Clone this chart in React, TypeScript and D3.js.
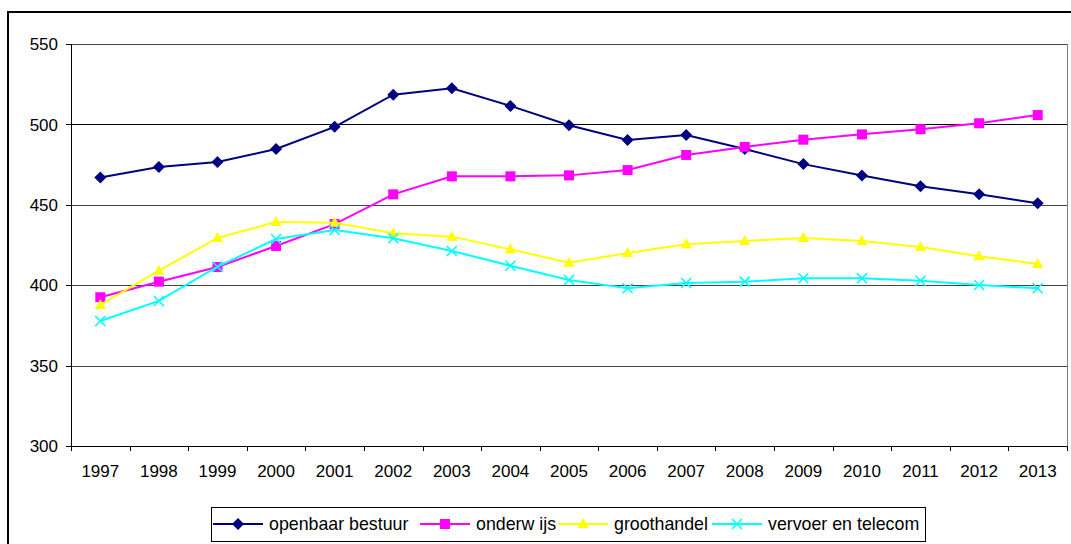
import * as d3 from 'd3';

// data
const years = ['1997', '1998', '1999', '2000', '2001', '2002', '2003', '2004', '2005', '2006', '2007', '2008', '2009', '2010', '2011', '2012', '2013'];
const openbaarBestuur = [467, 473.5, 476.6, 484.7, 498.5, 518.5, 522.5, 511.5, 499.5, 490.3, 493.4, 484.7, 475.3, 468.2, 461.5, 456.5, 451];
const onderwijs = [392.5, 402.2, 411.3, 424.4, 438, 456.5, 467.7, 467.7, 468.3, 471.6, 481, 486, 490.5, 493.8, 497, 500.7, 505.8];
const groothandel = [387.7, 409, 429.4, 439.3, 438.9, 432.3, 430.2, 422.3, 414, 420, 425.4, 427.5, 429.4, 427.5, 423.8, 418, 413.2];
const vervoerTelecom = [377.7, 390.2, 411.5, 428.7, 434.3, 429.2, 421.3, 412.1, 403.2, 398.1, 401.4, 402.2, 404.3, 404.3, 402.8, 400.1, 398.1];
const yTicks = [300, 350, 400, 450, 500, 550];

type Marker = 'diamond' | 'square' | 'triangle' | 'cross';
const series: { name: string; values: number[]; color: string; marker: Marker }[] = [
  { name: 'openbaar bestuur', values: openbaarBestuur, color: '#000080', marker: 'diamond' },
  { name: 'onderw ijs', values: onderwijs, color: '#FF00FF', marker: 'square' },
  { name: 'groothandel', values: groothandel, color: '#FFFF00', marker: 'triangle' },
  { name: 'vervoer en telecom', values: vervoerTelecom, color: '#00FFFF', marker: 'cross' },
];

const W = 1071, H = 544;
const plot = { left: 71, right: 1067, top: 44, bottom: 446 };
const FONT = 'Liberation Sans, Arial, sans-serif';

function MarkerShape({ type, x, y, color }: { type: Marker; x: number; y: number; color: string }) {
  if (type === 'diamond') {
    return <path d={`M${x},${y - 6}L${x + 6},${y}L${x},${y + 6}L${x - 6},${y}Z`} fill={color} />;
  }
  if (type === 'square') {
    return <rect x={x - 5} y={y - 5} width={10} height={10} fill={color} />;
  }
  if (type === 'triangle') {
    return <path d={`M${x},${y - 6}L${x + 5.5},${y + 4}L${x - 5.5},${y + 4}Z`} fill={color} />;
  }
  return <path d={`M${x - 5},${y - 5}L${x + 5},${y + 5}M${x + 5},${y - 5}L${x - 5},${y + 5}`} stroke={color} strokeWidth={1.6} fill="none" />;
}

export default function App() {
  const x = d3.scaleBand<string>().domain(years).range([plot.left, plot.right]);
  const y = d3.scaleLinear().domain([300, 550]).range([plot.bottom, plot.top]);
  const cx = (yr: string) => (x(yr) ?? 0) + x.bandwidth() / 2;

  const line = d3.line<number>()
    .x((_, i) => cx(years[i]))
    .y(d => y(d));

  // legend layout (line sample start positions)
  const legendStarts = [213, 420, 558, 712];

  return (
    <div style={{ position: 'fixed', left: 0, top: 0, width: W, height: H, background: '#fff' }}>
      <svg width={W} height={H} style={{ display: 'block', fontFamily: FONT }}>
        {/* outer frame */}
        <path d={`M8,${H + 5}V12H${W + 5}`} stroke="#000" strokeWidth={2} fill="none" />

        {/* gridlines */}
        {yTicks.filter(t => t > 300).map(t => (
          <line key={t} x1={plot.left} x2={plot.right} y1={Math.round(y(t)) + 0.5} y2={Math.round(y(t)) + 0.5}
            stroke={t === 500 ? '#000' : '#444'} strokeWidth={1} shapeRendering="crispEdges" />
        ))}
        {/* plot area right border */}
        <line x1={plot.right + 0.5} x2={plot.right + 0.5} y1={plot.top} y2={plot.bottom} stroke="#808080" shapeRendering="crispEdges" />

        {/* y axis */}
        <line x1={plot.left + 0.5} x2={plot.left + 0.5} y1={plot.top} y2={plot.bottom + 1} stroke="#000" shapeRendering="crispEdges" />
        {yTicks.map(t => (
          <g key={t}>
            <line x1={plot.left - 5} x2={plot.left} y1={Math.round(y(t)) + 0.5} y2={Math.round(y(t)) + 0.5} stroke="#000" shapeRendering="crispEdges" />
            <text x={58} y={y(t)} dy="0.36em" textAnchor="end" fontSize={17} fill="#000">{t}</text>
          </g>
        ))}

        {/* x axis */}
        <line x1={plot.left} x2={plot.right + 1} y1={plot.bottom + 0.5} y2={plot.bottom + 0.5} stroke="#000" shapeRendering="crispEdges" />
        {[...years.map(yr => x(yr) ?? 0), plot.right].map((px, i) => (
          <line key={i} x1={Math.round(px) + 0.5} x2={Math.round(px) + 0.5} y1={plot.bottom} y2={plot.bottom + 5} stroke="#000" shapeRendering="crispEdges" />
        ))}
        {years.map(yr => (
          <text key={yr} x={cx(yr)} y={477} textAnchor="middle" fontSize={17} fill="#000">{yr}</text>
        ))}

        {/* series */}
        {series.map(s => (
          <g key={s.name}>
            <path d={line(s.values) ?? ''} fill="none" stroke={s.color} strokeWidth={2} />
            {s.values.map((v, i) => (
              <MarkerShape key={i} type={s.marker} x={cx(years[i])} y={y(v)} color={s.color} />
            ))}
          </g>
        ))}

        {/* legend */}
        <rect x={211.5} y={507.5} width={714} height={34} fill="#fff" stroke="#000" strokeWidth={1} shapeRendering="crispEdges" />
        {series.map((s, i) => {
          const lx = legendStarts[i];
          const ly = 524;
          return (
            <g key={s.name}>
              <line x1={lx} x2={lx + 50} y1={ly} y2={ly} stroke={s.color} strokeWidth={2} />
              <MarkerShape type={s.marker} x={lx + 25} y={ly} color={s.color} />
              <text x={lx + 56} y={ly} dy="0.36em" fontSize={17.8} fill="#000">{s.name}</text>
            </g>
          );
        })}
      </svg>
    </div>
  );
}
